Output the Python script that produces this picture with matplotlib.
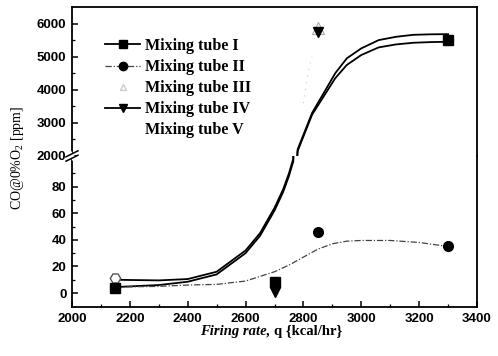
import matplotlib
matplotlib.use("Agg")
import matplotlib.pyplot as plt
from matplotlib.lines import Line2D

plt.rcParams['mathtext.fontset'] = 'custom'
plt.rcParams['mathtext.rm'] = 'Liberation Serif'

# ---- data ----
# scatter measurements
tube1_x = [2150, 2700, 3300]
tube1_y = [4, 8, 5500]
tube2_x = [2150, 2850, 3300]
tube2_y = [4, 46, 35]
tube3_x = [2850]
tube3_y = [5870]
tube4_x = [2700, 2850]
tube4_y = [1, 5750]
tube5_x = [2150]
tube5_y = [11]

# fitted curves
fit_x = [2150, 2200, 2300, 2400, 2500, 2600, 2650, 2700, 2730, 2750, 2765,
         2780, 2830, 2870, 2910, 2950, 3000, 3060, 3120, 3180, 3240, 3300]
fit_upper = [10, 9.8, 9.5, 10.5, 16, 32, 45, 64, 78, 90, 101,
             2200, 3300, 3900, 4500, 4950, 5250, 5500, 5600, 5660, 5675, 5680]
fit_lower = [4.5, 5, 6, 8.5, 14, 30, 43, 62, 76, 88, 99,
             2150, 3250, 3800, 4350, 4750, 5050, 5280, 5370, 5420, 5440, 5450]
fit2_x = [2150, 2300, 2400, 2500, 2600, 2700, 2750, 2800, 2850, 2900, 2950,
          3000, 3100, 3200, 3300]
fit2_y = [4.5, 5, 6, 6.5, 9, 16, 21, 27, 33, 37, 39, 39.5, 39.5, 38, 35]
fit3_x = [2800, 2810, 2820, 2830]
fit3_y = [3600, 4200, 4700, 5000]

labels = ['Mixing tube I', 'Mixing tube II', 'Mixing tube III',
          'Mixing tube IV', 'Mixing tube V']
xticks = [2000, 2200, 2400, 2600, 2800, 3000, 3200, 3400]
top_ticks = [2000, 3000, 4000, 5000, 6000]
bot_ticks = [0, 20, 40, 60, 80]

W, H = 498, 356
fig = plt.figure(figsize=(W / 100, H / 100), dpi=100)
L, R, T, B, BRK = 72, 477, 7, 307, 156
ax_top = fig.add_axes([L / W, 1 - BRK / H, (R - L) / W, (BRK - T) / H])
ax_bot = fig.add_axes([L / W, 1 - B / H, (R - L) / W, (B - BRK) / H])

for ax in (ax_top, ax_bot):
    ax.plot(fit_x, fit_upper, color='black', lw=1.3, zorder=2)
    ax.plot(fit_x, fit_lower, color='black', lw=1.3, zorder=2)
    ax.plot(fit2_x, fit2_y, color='#444444', lw=0.9, dashes=(5, 1.5, 1, 1.5), zorder=2)
    ax.plot(fit3_x, fit3_y, color='#cccccc', lw=0.8, ls=(0, (1, 5)), zorder=1)
    ax.plot(tube5_x, tube5_y, ls='none', marker='H', ms=7.5, mfc='white',
            mec='#555555', mew=1.0, zorder=3)
    ax.plot(tube2_x, tube2_y, ls='none', marker='o', ms=7, color='black', zorder=4)
    ax.plot(tube1_x, tube1_y, ls='none', marker='s', ms=7, color='black', zorder=5)
    ax.plot(tube3_x, tube3_y, ls='none', marker='^', ms=8, mfc='white',
            mec='#aaaaaa', mew=0.8, zorder=5)
    ax.plot(tube4_x, tube4_y, ls='none', marker='v', ms=7, color='black', zorder=6)
    ax.set_xlim(2000, 3400)
    for s in ax.spines.values():
        s.set_linewidth(1.3)

ax_top.set_ylim(2000, 6500)
ax_bot.set_ylim(-10.5, 103)

ax_top.spines['bottom'].set_visible(False)
ax_bot.spines['top'].set_visible(False)
ax_top.tick_params(axis='x', which='both', bottom=False, labelbottom=False)
ax_top.set_yticks(top_ticks)
ax_top.set_yticks(range(2500, 6500, 1000), minor=True)
ax_bot.set_yticks(bot_ticks)
ax_bot.set_yticks(range(10, 100, 20), minor=True)
ax_bot.set_xticks(xticks)
ax_bot.set_xticks(range(2100, 3400, 200), minor=True)

tick_font = dict(family='Liberation Sans', weight='bold', size=9.5)
for ax in (ax_top, ax_bot):
    ax.tick_params(which='major', direction='in', length=4, width=1.1,
                   top=False, right=False, pad=4)
    ax.tick_params(which='minor', direction='in', length=2.2, width=0.9,
                   top=False, right=False)
    for lbl in ax.get_xticklabels() + ax.get_yticklabels():
        lbl.set_fontproperties(matplotlib.font_manager.FontProperties(**tick_font))

# axis break mark on the left spine
def px(x, y):
    return (x / W, 1 - y / H)

fig.add_artist(Line2D([px(70, 0)[0], px(74, 0)[0]], [px(0, 153)[1], px(0, 159)[1]],
                      color='white', lw=3, transform=fig.transFigure))
for dy in (-2.2, 2.2):
    x0, y0 = px(66, BRK + 3 + dy)
    x1, y1 = px(78, BRK - 3 + dy)
    fig.add_artist(Line2D([x0, x1], [y0, y1], color='black', lw=1.1,
                          transform=fig.transFigure))

# legend
handles = [
    Line2D([], [], color='black', lw=1.3, marker='s', ms=6),
    Line2D([], [], color='#444444', lw=0.9, dashes=(5, 1.5, 1, 1.5), marker='o', ms=6,
           mfc='black', mec='black'),
    Line2D([], [], color='white', lw=0.9, marker='^', ms=5, mfc='white', mec='#cccccc'),
    Line2D([], [], color='black', lw=1.3, marker='v', ms=6),
    Line2D([], [], color='white', lw=1.0),
]
leg = ax_top.legend(handles, labels, loc='upper left', bbox_to_anchor=px(97, 30),
                    bbox_transform=fig.transFigure, frameon=False, borderpad=0,
                    prop=dict(family='Liberation Serif', weight='bold', size=11.5),
                    handlelength=2.2, handletextpad=0.3, labelspacing=0.32)

# axis labels
fig.text(18 / W, 1 - 158 / H, 'CO@0%O$_2$ [ppm]', rotation=90, ha='center',
         va='center', family='Liberation Serif', size=10)
fig.text(270 / W, 1 - 331 / H, 'Firing rate,', ha='right', va='center',
         family='Liberation Serif', weight='bold', style='italic', size=10.5)
fig.text(274 / W, 1 - 331 / H, 'q {kcal/hr}', ha='left', va='center',
         family='Liberation Serif', weight='bold', size=10.5)

fig.savefig('out.png', dpi=100)
